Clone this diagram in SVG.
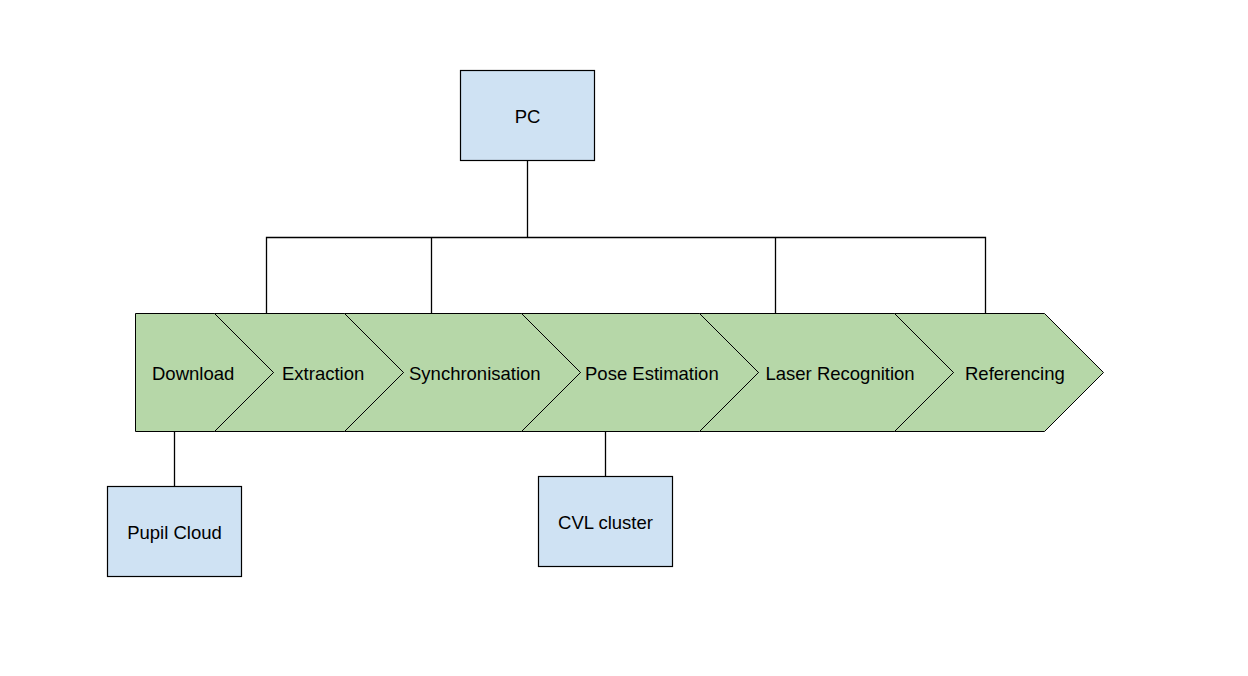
<svg xmlns="http://www.w3.org/2000/svg" width="1248" height="676" viewBox="0 0 1248 676">
<style>
.box{fill:#cfe2f3;stroke:#000;stroke-width:1.2}
.chev{fill:#b6d7a8;stroke:#000;stroke-width:1}
.edge{fill:none;stroke:#000;stroke-width:1.3}
text{font-family:"Liberation Sans",Arial,sans-serif;font-size:18.5px;fill:#000}
.c{text-anchor:middle}
</style>
<rect width="1248" height="676" fill="#fff"/>
<g id="connectors">
<path class="edge" d="M527.5,160.5V237.5M266.5,313.5V237.5H985.5V313.5M431.5,237.5V313.5M775.5,237.5V313.5"/>
<path class="edge" d="M174.5,431.5V486.5"/>
<path class="edge" d="M605.5,431.5V476.5"/>
</g>
<g id="referencing">
<polygon class="chev" points="894.5,313.5 1044.5,313.5 1103.5,372.5 1044.5,431.5 894.5,431.5 953.5,372.5"/>
<text x="965" y="380">Referencing</text>
</g>
<g id="laser-recognition">
<polygon class="chev" points="699.5,313.5 894.5,313.5 953.5,372.5 894.5,431.5 699.5,431.5 758.5,372.5"/>
<text x="765.5" y="380">Laser Recognition</text>
</g>
<g id="pose-estimation">
<polygon class="chev" points="521.5,313.5 699.5,313.5 758.5,372.5 699.5,431.5 521.5,431.5 580.5,372.5"/>
<text x="585" y="380">Pose Estimation</text>
</g>
<g id="synchronisation">
<polygon class="chev" points="344.5,313.5 521.5,313.5 580.5,372.5 521.5,431.5 344.5,431.5 403.5,372.5"/>
<text x="409" y="380">Synchronisation</text>
</g>
<g id="extraction">
<polygon class="chev" points="214.5,313.5 344.5,313.5 403.5,372.5 344.5,431.5 214.5,431.5 273.5,372.5"/>
<text x="282" y="380">Extraction</text>
</g>
<g id="download">
<polygon class="chev" points="135.5,313.5 214.5,313.5 273.5,372.5 214.5,431.5 135.5,431.5"/>
<text x="152" y="380">Download</text>
</g>
<g id="pc">
<rect class="box" x="460.5" y="70.5" width="134" height="90"/>
<text class="c" x="527.5" y="123">PC</text>
</g>
<g id="pupil-cloud">
<rect class="box" x="107.5" y="486.5" width="134" height="90"/>
<text class="c" x="174.5" y="539">Pupil Cloud</text>
</g>
<g id="cvl-cluster">
<rect class="box" x="538.5" y="476.5" width="134" height="90"/>
<text class="c" x="605.5" y="529">CVL cluster</text>
</g>
</svg>
